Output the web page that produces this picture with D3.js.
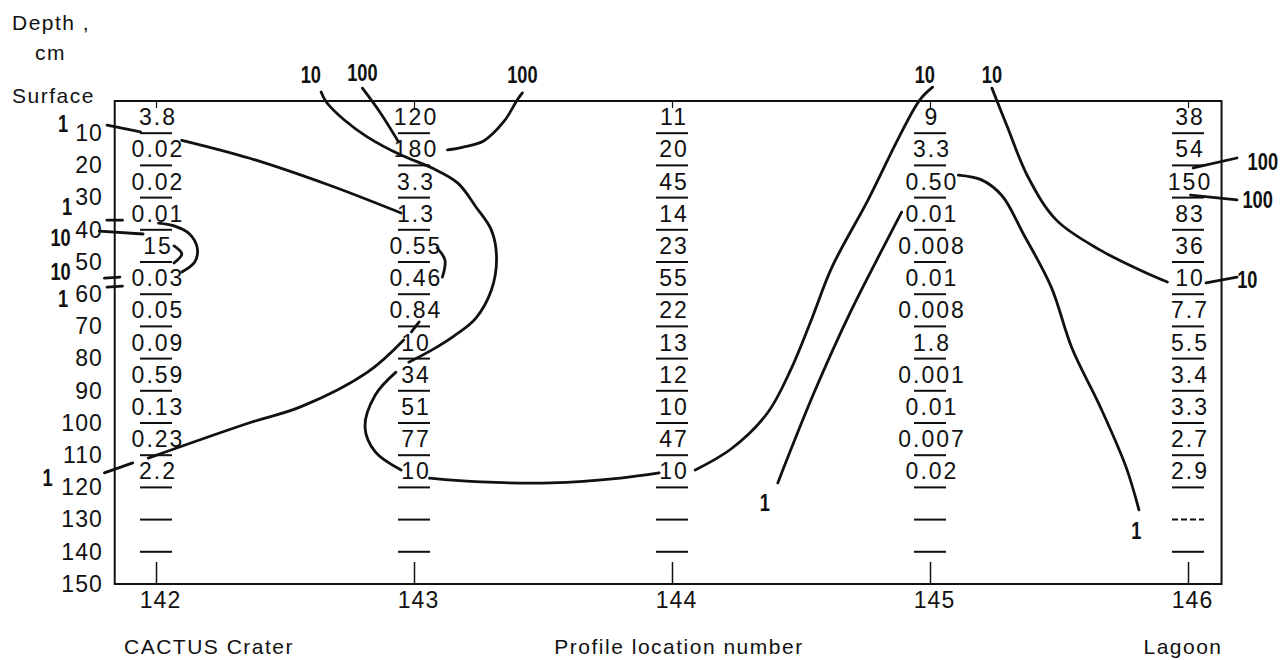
<!DOCTYPE html>
<html>
<head>
<meta charset="utf-8">
<script src="https://cdn.jsdelivr.net/npm/d3@7"></script>
<style>
body{margin:0;background:#fff;}
svg{display:block;}
text{font-family:"Liberation Sans",Arial,sans-serif;fill:#111;}
.val{font-size:23px;letter-spacing:2px;}
.axis text{font-size:23px;letter-spacing:1px;font-family:"Liberation Sans",Arial,sans-serif;fill:#111;}
.cap{font-size:21px;letter-spacing:1.5px;}
.iso-label{font-family:"Liberation Sans",Arial,sans-serif;font-weight:bold;font-size:24px;}
</style>
</head>
<body>
<div id="chart"></div>
<script>
// profile locations and depth marks (cm)
var locations=[142,143,144,145,146];
var depthTicks=[10,20,30,40,50,60,70,80,90,100,110,120,130,140,150];
var sepDepths=[10,20,30,40,50,60,70,80,90,100,110,120,130,140];

// values for each 10 cm layer, 0-10 ... 110-120
var col142=["3.8","0.02","0.02","0.01","15","0.03","0.05","0.09","0.59","0.13","0.23","2.2"];
var col143=["120","180","3.3","1.3","0.55","0.46","0.84","10","34","51","77","10"];
var col144=["11","20","45","14","23","55","22","13","12","10","47","10"];
var col145=["9","3.3","0.50","0.01","0.008","0.01","0.008","1.8","0.001","0.01","0.007","0.02"];
var col146=["38","54","150","83","36","10","7.7","5.5","3.4","3.3","2.7","2.9"];
var columns=[col142,col143,col144,col145,col146];

// isolines, points as [location, depth]
var iso1TopA=[[141.81,7.5],[141.94,9.6]];
var iso1TopB=[[142.10,12.2],[142.36,17.7],[142.67,26.1],[142.95,34.8]];
var iso1At37=[[141.81,37.0],[141.87,37.0]];
var iso10LoopA=[[141.78,40.4],[141.95,41.3]];
var iso10LoopB=[[142.01,37.9],[142.07,38.8],[142.13,41.3],[142.16,45.7],[142.15,50.0],[142.10,53.1]];
var iso10LoopC=[[141.80,55.0],[141.86,54.7]];
var iso10Inner=[[142.07,45.0],[142.10,47.5],[142.07,50.3]];
var iso1At58=[[141.81,57.8],[141.87,57.5]];
var iso1LowA=[[141.80,115.5],[141.91,112.4]];
var iso1LowB=[[141.97,110.9],[142.36,100.0],[142.56,95.0],[142.82,84.2],[142.96,74.2]];
var iso10S=[[142.64,-2.8],[142.66,0.3],[142.73,5.9],[142.82,11.2],[142.95,16.8],[143.07,20.8],[143.17,25.5],[143.24,32.9],[143.30,40.1],[143.32,48.8],[143.30,58.7],[143.24,67.4],[143.16,72.7],[143.07,77.3],[142.98,81.1]];
var iso10Tick=[[143.02,68.6],[142.99,71.7]];
var iso10Bend=[[142.93,84.2],[142.85,91.3],[142.81,101.2],[142.85,109.0],[142.95,114.6]];
var iso10Base=[[143.06,117.1],[143.26,118.3],[143.53,118.6],[143.80,117.1],[143.95,115.5]];
var iso10Rise=[[144.09,114.6],[144.23,108.0],[144.37,96.9],[144.46,83.5],[144.54,68.0],[144.62,51.6],[144.76,30.7],[144.88,11.2],[144.96,-0.3],[145.01,-4.3]];
var iso100Left=[[142.80,-4.0],[142.87,3.7],[142.94,12.7]];
var iso100Right=[[143.13,15.2],[143.19,14.3],[143.27,12.4],[143.35,6.2],[143.40,-0.3],[143.42,-2.5]];
var iso10Small143=[[143.09,45.7],[143.12,49.4],[143.11,54.7]];
var iso1Col145=[[144.41,118.6],[144.55,90.7],[144.69,65.8],[144.82,45.3],[144.89,34.5]];
var iso1Drop=[[145.11,23.0],[145.20,24.5],[145.28,29.5],[145.36,41.0],[145.47,57.8],[145.55,76.7],[145.66,95.0],[145.76,113.7],[145.81,127.0]];
var iso10Lagoon=[[145.24,-4.0],[145.30,8.1],[145.38,23.6],[145.49,37.0],[145.66,46.3],[145.83,53.1],[145.92,56.2]];
var iso10Right=[[146.07,56.5],[146.19,54.7]];
var iso100RightA=[[146.02,20.8],[146.19,17.7]];
var iso100RightB=[[146.01,29.2],[146.19,30.7]];
var isolines=[iso1TopA,iso1TopB,iso1At37,iso10LoopA,iso10LoopB,iso10LoopC,iso10Inner,iso1At58,
  iso1LowA,iso1LowB,iso10S,iso10Tick,iso10Bend,iso10Base,iso10Rise,iso100Left,iso100Right,
  iso10Small143,iso1Col145,iso1Drop,iso10Lagoon,iso10Right,iso100RightA,iso100RightB];

// isoline value labels
var isoLabelText=["1","1","10","10","1","1","10","100","100","10","10","100","100","10","1","1"];
var isoLabelLoc=[141.64,141.655,141.63,141.63,141.64,141.58,142.60,142.80,143.42,144.98,145.24,146.29,146.27,146.23,144.36,145.80];
var isoLabelDepth=[7.1,32.9,42.5,53.1,61.5,117.1,-8.1,-8.7,-8.1,-8.1,-8.1,18.9,30.7,55.6,124.8,133.5];

var width=1283, height=660;

var svg=d3.select("#chart").append("svg")
  .attr("width",width)
  .attr("height",height);

var x=d3.scaleLinear().domain([142,146]).range([156,1188]);
var y=d3.scaleLinear().domain([0,150]).range([101,584]);

// frame
svg.append("rect")
  .attr("x",x(141.84))
  .attr("y",y(0))
  .attr("width",x(146.13)-x(141.84))
  .attr("height",y(150)-y(0))
  .attr("fill","none")
  .attr("stroke","#111")
  .attr("stroke-width",2);

// left depth labels
var yAxis=d3.axisLeft(y).tickValues(depthTicks).tickSize(0).tickPadding(12);
svg.append("g")
  .attr("class","axis")
  .attr("transform","translate("+x(141.84)+",0)")
  .call(yAxis)
  .call(function(g){g.select(".domain").remove();});

// bottom location ticks
var xAxis=d3.axisBottom(x).tickValues(locations).tickSize(-22).tickPadding(8).tickFormat(d3.format("d"));
svg.append("g")
  .attr("class","axis")
  .attr("transform","translate(0,"+y(150)+")")
  .call(xAxis)
  .call(function(g){
    g.select(".domain").remove();
    g.selectAll("line").attr("stroke","#111").attr("stroke-width",1.5);
    g.selectAll("text").attr("dx",4);
  });

// small top ticks
svg.append("g")
  .attr("transform","translate(0,"+y(0)+")")
  .call(d3.axisTop(x).tickValues(locations).tickSize(-7).tickFormat(""))
  .call(function(g){
    g.select(".domain").remove();
    g.selectAll("line").attr("stroke","#111").attr("stroke-width",1.2);
  });

// layer separators
locations.forEach(function(loc){
  svg.append("g").selectAll("line")
    .data(sepDepths)
    .enter()
    .append("line")
    .attr("x1",x(loc)-16)
    .attr("x2",x(loc)+16)
    .attr("y1",function(d){return y(d);})
    .attr("y2",function(d){return y(d);})
    .attr("stroke","#111")
    .attr("stroke-width",2)
    .attr("stroke-dasharray",function(d){return (loc==146 && d==130) ? "6,3" : null;});
});

// layer values
columns.forEach(function(vals,c){
  svg.append("g").selectAll("text")
    .data(vals)
    .enter()
    .append("text")
    .attr("class","val")
    .attr("x",x(locations[c])+2)
    .attr("y",function(d,i){return y(i*10+5);})
    .attr("text-anchor","middle")
    .attr("dominant-baseline","central")
    .text(function(d){return d;});
});

// isolines
var line=d3.line()
  .x(function(d){return x(d[0]);})
  .y(function(d){return y(d[1]);})
  .curve(d3.curveCatmullRom.alpha(0.5));

svg.append("g").selectAll("path")
  .data(isolines)
  .enter()
  .append("path")
  .attr("d",line)
  .attr("fill","none")
  .attr("stroke","#111")
  .attr("stroke-width",2.8)
  .attr("stroke-linecap","round");

// bold condensed labels on the isolines
svg.append("g").selectAll("text")
  .data(isoLabelText)
  .enter()
  .append("text")
  .attr("class","iso-label")
  .attr("transform",function(d,i){
    return "translate("+x(isoLabelLoc[i])+","+y(isoLabelDepth[i])+") scale(0.76,1)";
  })
  .attr("text-anchor","middle")
  .attr("dominant-baseline","central")
  .text(function(d){return d;});

// headings
svg.append("text").attr("class","cap").attr("x",12).attr("y",30).text("Depth ,");
svg.append("text").attr("class","cap").attr("x",35).attr("y",60).text("cm");
svg.append("text").attr("class","cap").attr("x",12).attr("y",103).text("Surface");

svg.append("text").attr("class","cap").attr("x",209).attr("y",654).attr("text-anchor","middle").text("CACTUS Crater");
svg.append("text").attr("class","cap").attr("x",679).attr("y",654).attr("text-anchor","middle").text("Profile location number");
svg.append("text").attr("class","cap").attr("x",1183).attr("y",654).attr("text-anchor","middle").text("Lagoon");
</script>
</body>
</html>
